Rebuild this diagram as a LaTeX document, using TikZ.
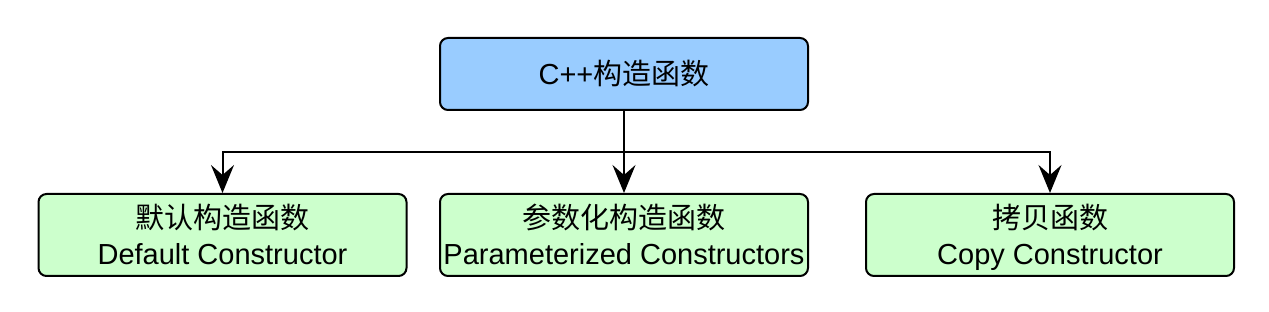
\documentclass[tikz,border=0pt]{standalone}
\usepackage{fontspec}
\setmainfont{Liberation Sans}
\newfontfamily\cjk{Noto Sans CJK SC}
\usetikzlibrary{arrows.meta}

\definecolor{rootblue}{RGB}{153,204,255}
\definecolor{leafgreen}{RGB}{204,255,204}
\newcommand\rowstrut{\rule[-6pt]{0pt}{36pt}}

\begin{document}
\begin{tikzpicture}[x=1pt, y=-1pt,
  box/.style={draw=black, line width=2pt, rounded corners=8pt, inner sep=0pt,
    minimum width=368pt, align=center, font=\fontsize{29}{36}\selectfont},
  rootbox/.style={box, fill=rootblue, minimum height=72pt},
  leafbox/.style={box, fill=leafgreen, minimum height=82pt},
  link/.style={line width=2pt, -{Stealth[length=28pt, width=23pt, inset=10pt]}}]
\fill[white] (0,0) rectangle (1269,312);
\useasboundingbox (0,0) rectangle (1269,312);
\node[rootbox] (ctor) at (624,74) {C++{\cjk 构造函数}};
\node[leafbox] (dflt) at (222.5,235) {\rowstrut{\cjk 默认构造函数}\\\rowstrut Default Constructor};
\node[leafbox] (param) at (624,235) {\rowstrut{\cjk 参数化构造函数}\\\rowstrut Parameterized Constructors};
\node[leafbox] (copy) at (1050,235) {\rowstrut{\cjk 拷贝函数}\\\rowstrut Copy Constructor};
\coordinate (split) at (624,152);
\draw[line width=2pt] (ctor.south) -- (split);
\draw[link] (split) -| (dflt.north);
\draw[link] (ctor.south) -- (param.north);
\draw[link] (split) -| (copy.north);
\end{tikzpicture}
\end{document}
